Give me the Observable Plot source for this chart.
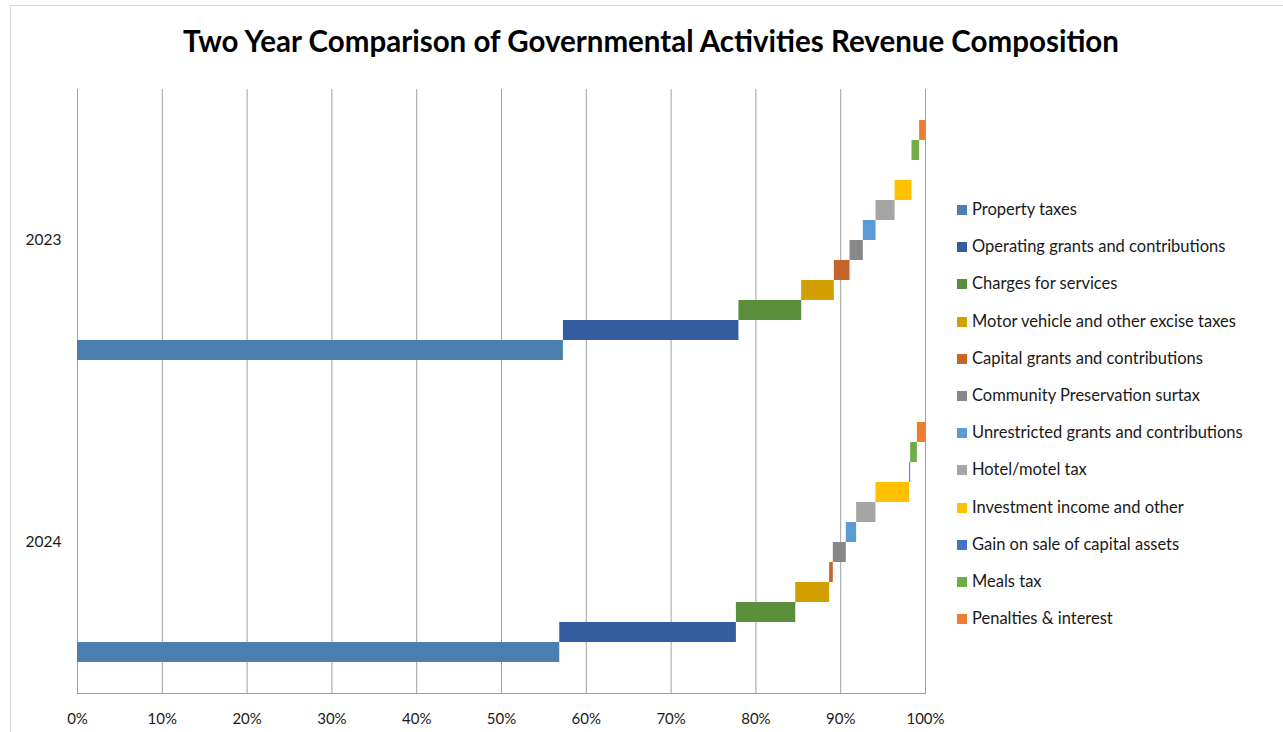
<!DOCTYPE html>
<html>
<head>
<meta charset="utf-8">
<script src="https://cdn.jsdelivr.net/npm/d3@7"></script>
<script src="https://cdn.jsdelivr.net/npm/@observablehq/plot@0.6"></script>
<style>
  html, body { margin: 0; padding: 0; background: #fff; }
  #wrap { position: relative; width: 1283px; height: 732px; overflow: hidden; font-family: Lato, "Open Sans", sans-serif; }
  #frame { position: absolute; left: 10px; top: 5px; width: 1290px; height: 740px; border-top: 1px solid #d9d9d9; border-left: 1px solid #d9d9d9; }
  #title { position: absolute; left: 0; width: 1302px; top: 23px; text-align: center; font-size: 29.5px; font-weight: 700; color: #000; white-space: nowrap; }
  #chart { position: absolute; left: 0; top: 0; }
  #legend { position: absolute; left: 957px; top: 199px; font-size: 16.5px; color: #1a1a1a; }
  .item { height: 37.2px; display: flex; align-items: flex-start; white-space: nowrap; }
  .sw { width: 10px; height: 10px; margin-top: 6px; margin-right: 5px; flex: none; }
</style>
</head>
<body>
<div id="wrap">
  <div id="frame"></div>
  <div id="chart"></div>
  <div id="title">Two Year Comparison of Governmental Activities Revenue Composition</div>
  <div id="legend"></div>
</div>
<script>
const years = ["2023", "2024"];
const series = [
  "Property taxes",
  "Operating grants and contributions",
  "Charges for services",
  "Motor vehicle and other excise taxes",
  "Capital grants and contributions",
  "Community Preservation surtax",
  "Unrestricted grants and contributions",
  "Hotel/motel tax",
  "Investment income and other",
  "Gain on sale of capital assets",
  "Meals tax",
  "Penalties & interest"
];
const colors = ["#4A7EAF", "#345CA0", "#5A8E3B", "#D39F00", "#C5652A", "#888888",
                "#5B9BD5", "#A5A5A5", "#FFC000", "#4472C4", "#70AD47", "#ED7D31"];
// share of total revenue, percent
const values2023 = [57.3, 20.7, 7.4, 3.85, 1.85, 1.57, 1.5, 2.24, 2.0, 0.0, 0.9, 0.69];
const values2024 = [56.87, 20.83, 7.0, 4.0, 0.43, 1.53, 1.22, 2.28, 3.97, 0.12, 0.79, 0.96];
const xTicks = [0, 0.1, 0.2, 0.3, 0.4, 0.5, 0.6, 0.7, 0.8, 0.9, 1.0];

const rows = [];
for (const [year, vals] of [["2023", values2023], ["2024", values2024]]) {
  let acc = 0;
  vals.forEach((v, i) => {
    rows.push({year, series: series[i], start: acc / 100, end: (acc + v) / 100});
    acc += v;
  });
}

const chart = Plot.plot({
  width: 960,
  height: 732,
  marginLeft: 77,
  marginRight: 35,
  marginTop: 88,
  marginBottom: 39,
  style: {fontFamily: "Lato, 'Open Sans', sans-serif", fontSize: "15px", color: "#1a1a1a", background: "transparent", overflow: "visible"},
  x: {domain: [0, 1], axis: null},
  y: {domain: series.slice().reverse(), axis: null, paddingInner: 0, paddingOuter: 1.45},
  fy: {domain: years, padding: 0, axis: null},
  color: {domain: series, range: colors},
  marks: [
    Plot.gridX(xTicks, {stroke: "#a0a0a0", strokeOpacity: 1}),
    Plot.axisX(xTicks, {anchor: "bottom", tickSize: 0, tickPadding: 20, tickFormat: d3.format(".0%"), facetAnchor: "bottom", fontSize: 15}),
    Plot.axisFy({anchor: "left", tickSize: 0, tickPadding: 16, label: null, fontSize: 15.5}),
    Plot.frame({anchor: "bottom", facetAnchor: "bottom", stroke: "#a0a0a0"}),
    Plot.barX(rows, {x1: "start", x2: "end", y: "series", fy: "year", fill: "series", insetTop: 0, insetBottom: 0})
  ]
});
document.getElementById("chart").appendChild(chart);

const legend = d3.select("#legend");
series.forEach((s, i) => {
  const item = legend.append("div").attr("class", "item");
  item.append("div").attr("class", "sw").style("background", colors[i]);
  item.append("div").text(s);
});
</script>
</body>
</html>
